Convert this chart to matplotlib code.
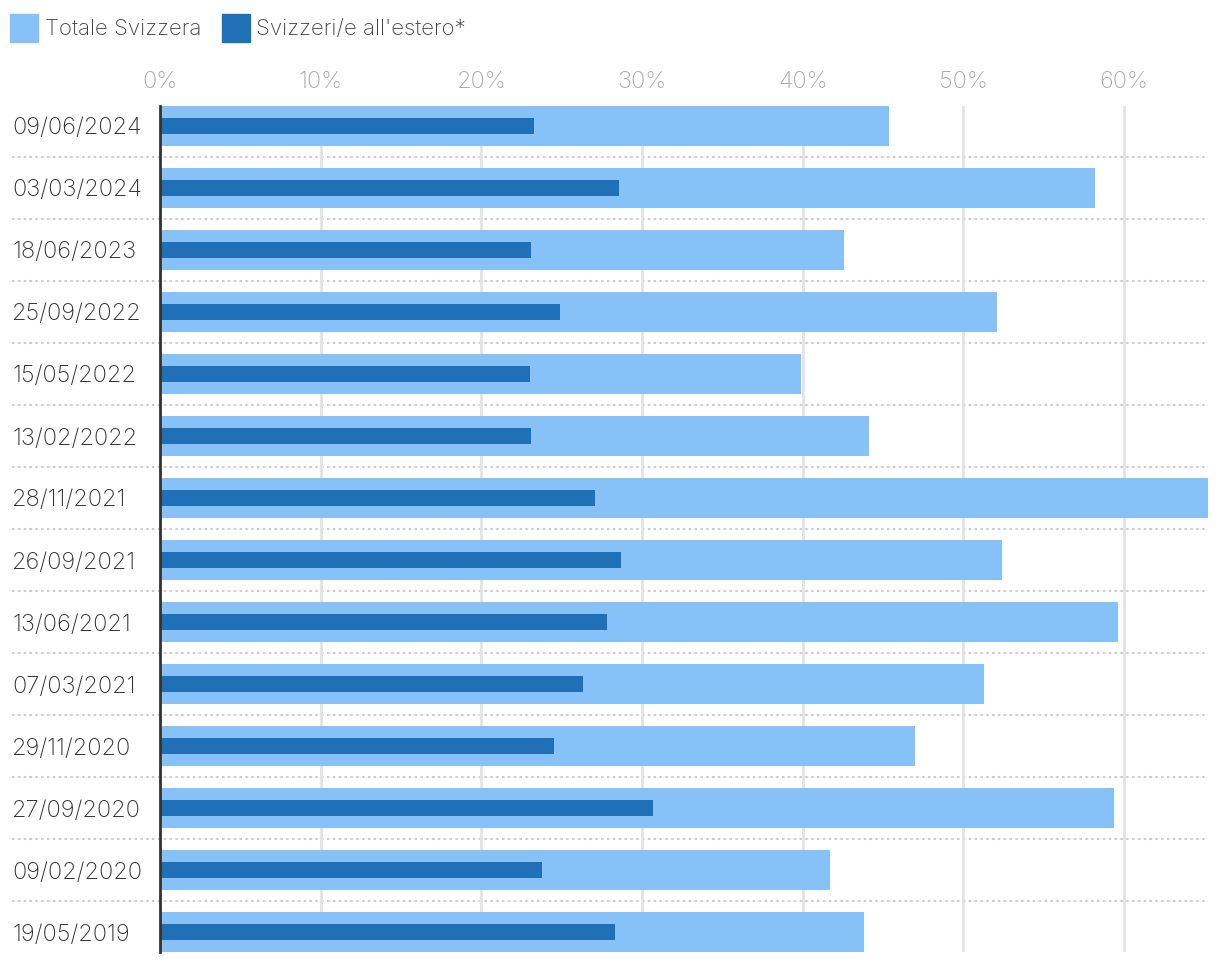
import matplotlib
matplotlib.use("Agg")
import matplotlib.pyplot as plt
import numpy as np

dates = ["09/06/2024", "03/03/2024", "18/06/2023", "25/09/2022", "15/05/2022",
         "13/02/2022", "28/11/2021", "26/09/2021", "13/06/2021", "07/03/2021",
         "29/11/2020", "27/09/2020", "09/02/2020", "19/05/2019"]
totale = [45.4, 58.2, 42.6, 52.1, 39.9, 44.1, 65.7, 52.4, 59.6, 51.3, 47.0, 59.4, 41.7, 43.8]
estero = [23.3, 28.6, 23.1, 24.9, 23.0, 23.1, 27.1, 28.7, 27.8, 26.3, 24.5, 30.7, 23.8, 28.3]
xticks = [0, 10, 20, 30, 40, 50, 60]

light = "#86c1f8"
dark = "#2070b8"

plt.rcParams["font.family"] = ["Inter", "DejaVu Sans"]
FS = 17

W, H = 1220, 964
fig = plt.figure(figsize=(W / 100, H / 100), dpi=100)
ax = fig.add_axes([160 / W, 12 / H, 1048 / W, 846 / H])

y = np.arange(len(dates))
h_light = 40 / 62
h_dark = 16 / 62
ax.barh(y, totale, height=h_light, color=light, zorder=2)
ax.barh(y, estero, height=h_dark, color=dark, zorder=3)

ax.set_xlim(0, 65.23)
ax.set_ylim(len(dates) - 1 + h_light / 2, -h_light / 2)

ax.xaxis.tick_top()
ax.set_xticks(xticks)
ax.set_xticklabels([f"{t}%" for t in xticks], color="#aaaaaa", fontsize=FS, fontweight="light")
ax.tick_params(axis="x", length=0, pad=9)
ax.grid(axis="x", color="#e3e3e3", linewidth=2, zorder=0)

# date labels start at x=12px, i.e. 148px left of the axis
ax.set_yticks(y)
ax.set_yticklabels(dates, color="#333333", fontsize=FS, fontweight="light", ha="left")
ax.tick_params(axis="y", length=0, pad=148 * 0.72)

for s in ["top", "right", "bottom"]:
    ax.spines[s].set_visible(False)
ax.spines["left"].set_color("#333333")
ax.spines["left"].set_linewidth(2)
ax.spines["left"].set_zorder(5)

for i in range(len(dates) - 1):
    ax.axhline(i + 0.5, xmin=-148 / 1048, xmax=1, color="#cccccc", linewidth=1.5,
               linestyle=(0, (1.2, 1.6)), clip_on=False, zorder=1)

# legend
fig.patches.append(plt.Rectangle((10 / W, 1 - 42 / H), 28 / W, 28 / H, color=light,
                                 transform=fig.transFigure))
fig.text(45 / W, 1 - 29 / H, "Totale Svizzera", fontsize=16, color="#444444",
         fontweight="light", va="center")
fig.patches.append(plt.Rectangle((222 / W, 1 - 42 / H), 28 / W, 28 / H, color=dark,
                                 transform=fig.transFigure))
fig.text(256 / W, 1 - 29 / H, "Svizzeri/e all'estero*", fontsize=16, color="#444444",
         fontweight="light", va="center")

fig.savefig("out.png", dpi=100)
